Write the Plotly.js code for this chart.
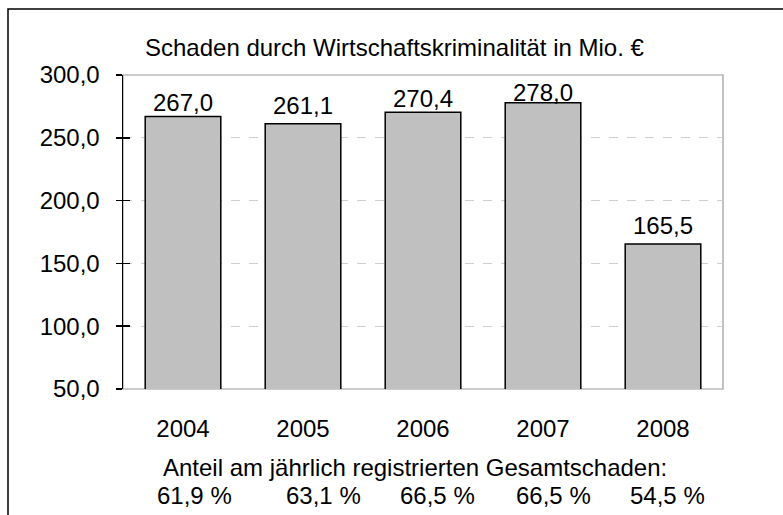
<!DOCTYPE html>
<html>
<head>
<meta charset="utf-8">
<script src="https://cdn.plot.ly/plotly-3.0.1.min.js"></script>
<style>html,body{margin:0;padding:0;background:#fff;}#chart{width:783px;height:515px;}</style>
</head>
<body>
<div id="chart"></div>
<script>
const years = ['2004', '2005', '2006', '2007', '2008'];
const damage = [267.0, 261.1, 270.4, 278.0, 165.5];
const shares = [61.9, 63.1, 66.5, 66.5, 54.5];
const titleText = 'Schaden durch Wirtschaftskriminalität in Mio. €';
const shareTitle = 'Anteil am jährlich registrierten Gesamtschaden:';

const labelShift = [14, 18, 14, 10, 18];
const shareShift = [11, 20, 14, 10, 4];

const W = 783, H = 515;
const L = 123, R = 723, T = 75, B = 389;
const px = x => (x - L) / (R - L);
const py = y => (B - y) / (B - T);
const fmt = v => v.toFixed(1).replace('.', ',');
const FONT = 'Liberation Sans, Arial, sans-serif';
const FS = 24;

const annotations = [];
years.forEach((yr, i) => {
  annotations.push({
    x: i, y: damage[i], xref: 'x', yref: 'y',
    text: fmt(damage[i]), showarrow: false,
    yanchor: 'middle', yshift: labelShift[i],
    font: {family: FONT, size: FS, color: '#000'}
  });
  annotations.push({
    x: i, y: py(495), xref: 'x', yref: 'paper',
    text: fmt(shares[i]) + ' %', showarrow: false,
    yanchor: 'middle', xanchor: 'center', xshift: shareShift[i],
    font: {family: FONT, size: FS, color: '#000'}
  });
});
annotations.push({
  x: px(415), y: py(467), xref: 'paper', yref: 'paper',
  text: shareTitle, showarrow: false, xanchor: 'center', yanchor: 'middle',
  font: {family: FONT, size: FS, color: '#000'}
});
annotations.push({
  x: px(395), y: py(48), xref: 'paper', yref: 'paper',
  text: titleText, showarrow: false, xanchor: 'center', yanchor: 'middle',
  font: {family: FONT, size: FS, color: '#000'}
});

const data = [
  {
    type: 'bar', x: years, y: damage,
    marker: {color: '#C0C0C0', line: {color: '#000', width: 1.5}},
    width: 0.63, hoverinfo: 'none'
  },
  {
    type: 'scatter', mode: 'markers', x: years, y: damage, yaxis: 'y2',
    marker: {opacity: 0, size: 1}, hoverinfo: 'none'
  }
];

const layout = {
  width: W, height: H,
  margin: {l: L, r: W - R, t: T, b: H - B, pad: 0},
  paper_bgcolor: '#fff', plot_bgcolor: '#fff',
  separators: ',.',
  showlegend: false,
  font: {family: FONT, size: FS, color: '#000'},
  xaxis: {
    type: 'category', categoryorder: 'array', categoryarray: years,
    range: [-0.5, 4.5], autorange: false,
    showgrid: false, zeroline: false, showline: false,
    ticks: '', ticklabelstandoff: 23,
    tickfont: {family: FONT, size: FS, color: '#000'}
  },
  yaxis: {
    range: [50, 300], autorange: false, tick0: 50, dtick: 50, tickformat: '.1f',
    showgrid: true, gridcolor: '#CFCFCF', griddash: 'dash', gridwidth: 1.2,
    zeroline: false, showline: true, linecolor: '#000', linewidth: 1.5,
    ticks: 'outside', ticklen: 6, tickwidth: 1.5, tickcolor: '#000',
    ticklabelstandoff: 11,
    tickfont: {family: FONT, size: FS, color: '#000'}
  },
  yaxis2: {
    overlaying: 'y', range: [50, 300], autorange: false, tick0: 50, dtick: 50,
    showgrid: false, zeroline: false, showline: false, showticklabels: false,
    ticks: 'inside', ticklen: 7, tickwidth: 1.5, tickcolor: '#000', side: 'left'
  },
  shapes: [
    {type: 'rect', xref: 'paper', yref: 'paper', x0: 0, x1: 1, y0: 0, y1: 1,
     line: {color: '#999999', width: 1.2}, layer: 'below'},
    {type: 'rect', xref: 'paper', yref: 'paper', x0: px(8), x1: px(820), y0: py(560), y1: py(9),
     line: {color: '#000', width: 1.5}, layer: 'below'}
  ],
  annotations: annotations
};

Plotly.newPlot('chart', data, layout, {displayModeBar: false, staticPlot: true});
</script>
</body>
</html>
